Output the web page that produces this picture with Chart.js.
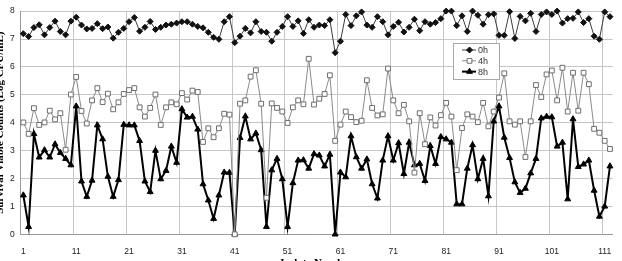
<!DOCTYPE html>
<html>
<head>
<meta charset="utf-8">
<script src="https://cdn.jsdelivr.net/npm/chart.js@4/dist/chart.umd.min.js"></script>
<style>
  html, body { margin: 0; padding: 0; background: #fff; overflow: hidden; width: 622px; height: 261px; }
  #wrap { position: absolute; left: -6px; top: 0; }
</style>
</head>
<body>
<div id="wrap"><canvas id="chart" width="628" height="272"></canvas></div>
<script>
// isolates 1..112
const isolates = Array.from({ length: 112 }, (_, i) => String(i + 1));
const shownTicks = ['1', '11', '21', '31', '41', '51', '61', '71', '81', '91', '101', '111'];
const seriesNames = ['0h', '4h', '8h'];

const h0 = [
  7.19, 7.09, 7.41, 7.51, 7.15, 7.41, 7.64, 7.27, 7.15, 7.64,
  7.78, 7.50, 7.36, 7.38, 7.55, 7.37, 7.43, 7.03, 7.24, 7.38,
  7.62, 7.77, 7.28, 7.42, 7.63, 7.34, 7.42, 7.50, 7.53, 7.57,
  7.62, 7.62, 7.53, 7.45, 7.40, 7.24, 7.06, 6.99, 7.62, 7.80,
  6.87, 7.10, 7.38, 7.22, 7.62, 7.27, 7.24, 6.92, 7.24, 7.45,
  7.80, 7.45, 7.65, 7.20, 7.69, 7.42, 7.50, 7.48, 7.69, 6.51,
  6.92, 7.88, 7.48, 7.83, 7.97, 7.50, 7.42, 7.80, 7.62, 7.15,
  7.45, 7.60, 7.25, 7.42, 7.71, 7.30, 7.62, 7.53, 7.59, 7.73,
  8.00, 8.00, 7.48, 7.83, 7.27, 8.00, 7.85, 7.53, 7.87, 7.90,
  7.13, 7.13, 7.98, 7.02, 7.81, 7.65, 7.92, 7.27, 7.88, 7.97,
  7.88, 8.00, 7.57, 7.73, 7.74, 7.97, 7.59, 7.73, 7.10, 6.99,
  7.97, 7.80
];

const h4 = [
  4.01, 3.60, 4.52, 3.92, 4.01, 4.43, 4.12, 4.34, 3.03, 5.01,
  5.64, 4.42, 3.97, 4.80, 5.24, 4.74, 5.04, 4.48, 4.73, 5.03,
  5.17, 5.24, 4.55, 4.22, 4.53, 5.01, 3.92, 4.55, 4.73, 4.66,
  5.06, 4.83, 5.15, 5.10, 3.31, 3.80, 3.48, 3.80, 4.32, 4.29,
  0.00, 4.68, 4.80, 5.65, 5.88, 4.68, 1.31, 4.69, 4.53, 4.40,
  3.99, 4.55, 4.80, 4.66, 6.29, 4.65, 4.86, 5.03, 5.70, 3.35,
  3.93, 4.40, 4.20, 4.02, 4.07, 5.52, 4.53, 4.26, 4.30, 5.94,
  4.80, 4.34, 4.64, 4.05, 2.21, 4.34, 3.23, 4.19, 3.90, 4.27,
  4.71, 4.22, 2.30, 3.81, 4.30, 4.22, 4.02, 4.71, 3.87, 4.40,
  4.90, 5.77, 4.05, 3.93, 4.05, 2.77, 4.05, 5.35, 4.92, 5.73,
  5.87, 4.80, 5.97, 4.40, 5.79, 4.43, 5.79, 5.38, 3.78, 3.64,
  3.35, 3.06
];

const h8 = [
  1.40, 0.27, 3.60, 2.76, 3.02, 2.76, 3.23, 2.92, 2.71, 2.48,
  4.59, 1.90, 1.35, 1.93, 3.91, 3.41, 2.07, 1.35, 1.95, 3.93,
  3.91, 3.91, 3.35, 1.90, 1.52, 3.00, 1.98, 2.28, 3.15, 2.57,
  4.49, 4.19, 4.22, 3.76, 1.80, 1.22, 0.56, 1.40, 2.22, 2.21,
  0.00, 3.46, 4.23, 3.41, 3.62, 3.02, 0.27, 2.30, 2.71, 1.98,
  0.27, 1.84, 2.65, 2.66, 2.36, 2.88, 2.83, 2.44, 2.86, 0.00,
  2.22, 2.05, 3.52, 2.77, 2.36, 2.69, 1.80, 1.29, 2.65, 3.52,
  2.65, 3.27, 2.17, 3.29, 2.48, 2.53, 1.92, 3.17, 2.53, 3.49,
  3.41, 3.29, 1.08, 1.08, 2.36, 3.20, 1.98, 2.71, 1.37, 4.05,
  4.59, 3.47, 2.74, 1.87, 1.49, 1.64, 2.19, 2.71, 4.16, 4.22,
  4.20, 3.15, 3.29, 1.26, 4.13, 2.42, 2.51, 2.65, 1.57, 0.64,
  1.00, 2.44
];

const gridColor = '#c6c6c6';
const axisColor = '#9a9a9a';
const tickFont = { family: 'Liberation Sans', size: 8.5 };
const titleFont = { family: 'Liberation Serif', size: 11, weight: 'bold' };

// legend box drawn inside the plot, like the original
const legendBox = {
  id: 'legendBox',
  afterDraw(chart) {
    const ctx = chart.ctx;
    const bx = 459, by = 43, bw = 46, bh = 36;
    ctx.save();
    ctx.fillStyle = '#fff';
    ctx.fillRect(bx, by, bw, bh);
    ctx.strokeStyle = '#a8a8a8';
    ctx.lineWidth = 1;
    ctx.strokeRect(bx + 0.5, by + 0.5, bw, bh);
    chart.data.datasets.forEach((ds, i) => {
      const cy = by + 7 + i * 10.8;
      ctx.strokeStyle = ds.borderColor;
      ctx.lineWidth = ds.borderWidth;
      ctx.beginPath();
      ctx.moveTo(bx + 9, cy);
      ctx.lineTo(bx + 23, cy);
      ctx.stroke();
      ctx.fillStyle = ds.pointBackgroundColor;
      ctx.strokeStyle = ds.pointBorderColor;
      ctx.lineWidth = 1;
      Chart.helpers.drawPoint(ctx, { pointStyle: ds.pointStyle, radius: ds.pointRadius, borderWidth: 1, rotation: 0 }, bx + 16.5, cy);
      ctx.fillStyle = '#333';
      ctx.font = '9px "Liberation Sans"';
      ctx.textBaseline = 'middle';
      ctx.textAlign = 'left';
      ctx.fillText(ds.label, bx + 25, cy + 0.5);
    });
    ctx.restore();
  }
};

new Chart(document.getElementById('chart'), {
  type: 'line',
  data: {
    labels: isolates,
    datasets: [
      {
        label: seriesNames[0], data: h0,
        borderColor: '#3c3c3c', borderWidth: 1,
        pointStyle: 'rectRot', pointRadius: 3,
        pointBackgroundColor: '#111', pointBorderColor: '#111', pointBorderWidth: 1,
        clip: false
      },
      {
        label: seriesNames[1], data: h4,
        borderColor: '#8a8a8a', borderWidth: 1,
        pointStyle: 'rect', pointRadius: 3.4,
        pointBackgroundColor: '#fff', pointBorderColor: '#6e6e6e', pointBorderWidth: 1,
        clip: false
      },
      {
        label: seriesNames[2], data: h8,
        borderColor: '#000', borderWidth: 2,
        pointStyle: 'triangle', pointRadius: 3.4,
        pointBackgroundColor: '#000', pointBorderColor: '#000', pointBorderWidth: 1,
        clip: false
      }
    ]
  },
  options: {
    responsive: false,
    animation: false,
    devicePixelRatio: 1,
    layout: { padding: { top: 5, right: 4, left: 0, bottom: 0 } },
    elements: { line: { tension: 0 } },
    plugins: { legend: { display: false }, tooltip: { enabled: false } },
    scales: {
      x: {
        type: 'category',
        offset: true,
        grid: {
          offset: true,
          drawTicks: false,
          color: c => (c.index % 10 === 0 ? gridColor : 'rgba(0,0,0,0)')
        },
        border: { color: axisColor },
        ticks: {
          autoSkip: false, maxRotation: 0, minRotation: 0,
          padding: 12, color: '#222', font: tickFont,
          callback: (v, i) => (shownTicks.includes(isolates[i]) ? isolates[i] : '')
        },
        title: {
          display: true, text: 'Isolate Number', color: '#000',
          font: titleFont, padding: { top: 0, bottom: 2 }
        },
        afterFit: s => { s.height = 37.7; }
      },
      y: {
        min: 0, max: 8,
        grid: { color: gridColor, drawTicks: false },
        border: { color: axisColor },
        ticks: { stepSize: 1, padding: 6, color: '#222', font: tickFont },
        title: {
          display: true, text: 'Survival Viable Counts (Log CFU/mL)', color: '#000',
          font: titleFont, padding: { top: 0, bottom: 0 }
        },
        afterFit: s => { s.width = 26.7; }
      }
    }
  },
  plugins: [legendBox]
});
</script>
</body>
</html>
